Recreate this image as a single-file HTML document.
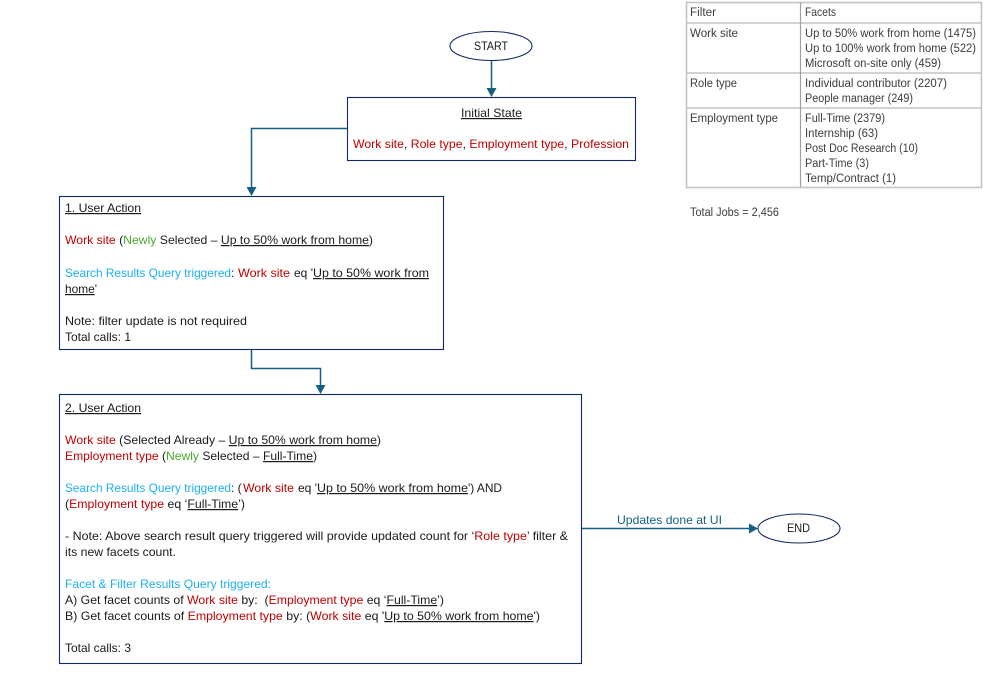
<!DOCTYPE html>
<html>
<head>
<meta charset="utf-8">
<style>
html,body{margin:0;padding:0;background:#fff;width:983px;height:682px;overflow:hidden}
svg{display:block}
text{font-family:"Liberation Sans",sans-serif;font-size:12px;fill:#1a1a1a;white-space:pre}
.r{fill:#c00000}.g{fill:#4ea72e}.b{fill:#1cb0f0}
.u{text-decoration:underline}
.t text{fill:#3c3c3c;font-size:11.5px}
.box{fill:#fff;stroke:#0f2a66;stroke-width:1.1}
.c{fill:none;stroke:#156082;stroke-width:1.5}
.a{fill:#156082}
</style>
</head>
<body>
<svg width="983" height="682" viewBox="0 0 983 682" xmlns="http://www.w3.org/2000/svg" xml:space="preserve">
<defs><filter id="soft" filterUnits="userSpaceOnUse" x="670" y="0" width="313" height="240"><feGaussianBlur stdDeviation="0.3"/></filter></defs>
<rect width="983" height="682" fill="#fff"/>

<!-- connectors -->
<path class="c" d="M491.5 61V90"/>
<path class="a" d="M486.5 88H496.5L491.5 97Z"/>
<path class="c" d="M347 128.5H251.5V188"/>
<path class="a" d="M246.5 187H256.5L251.5 196Z"/>
<path class="c" d="M251.5 349V368.5H320.5V386"/>
<path class="a" d="M315.5 385H325.5L320.5 394Z"/>
<path class="c" d="M581 528.5H750"/>
<path class="a" d="M749 523.5V533.5L758 528.5Z"/>

<!-- start -->
<ellipse class="box" cx="491" cy="46" rx="41" ry="14.5"/>
<text x="474" y="50" textLength="34" lengthAdjust="spacingAndGlyphs">START</text>

<!-- initial state -->
<rect class="box" x="347.5" y="97.5" width="288" height="63"/>
<text x="461" y="117" textLength="61" lengthAdjust="spacingAndGlyphs"><tspan class="u">Initial State</tspan></text>
<text x="353" y="148" textLength="276" lengthAdjust="spacingAndGlyphs"><tspan class="r">Work site</tspan>, <tspan class="r">Role type</tspan>, <tspan class="r">Employment type</tspan>, <tspan class="r">Profession</tspan></text>

<!-- box 1 -->
<rect class="box" x="59.5" y="196.5" width="384" height="153"/>
<text x="65" y="212" textLength="76" lengthAdjust="spacingAndGlyphs"><tspan class="u">1. User Action</tspan></text>
<text x="65" y="244" textLength="308" lengthAdjust="spacingAndGlyphs"><tspan class="r">Work site</tspan> (<tspan class="g">Newly</tspan> Selected – <tspan class="u">Up to 50% work from home</tspan>)</text>
<text x="65" y="277" textLength="166" lengthAdjust="spacingAndGlyphs" class="b">Search Results Query triggered</text>
<text x="231" y="277">:</text>
<text x="238" y="277" textLength="52" lengthAdjust="spacingAndGlyphs" class="r">Work site</text>
<text x="294" y="277" textLength="19" lengthAdjust="spacingAndGlyphs">eq '</text>
<text x="313" y="277" textLength="116" lengthAdjust="spacingAndGlyphs"><tspan class="u">Up to 50% work from</tspan></text>
<text x="65" y="293" textLength="32" lengthAdjust="spacingAndGlyphs"><tspan class="u">home</tspan>'</text>
<text x="65" y="325" textLength="182" lengthAdjust="spacingAndGlyphs">Note: filter update is not required</text>
<text x="65" y="341" textLength="66" lengthAdjust="spacingAndGlyphs">Total calls: 1</text>

<!-- box 2 -->
<rect class="box" x="59.5" y="394.5" width="522" height="269"/>
<text x="65" y="412" textLength="76" lengthAdjust="spacingAndGlyphs"><tspan class="u">2. User Action</tspan></text>
<text x="65" y="444" textLength="316" lengthAdjust="spacingAndGlyphs"><tspan class="r">Work site</tspan> (Selected Already – <tspan class="u">Up to 50% work from home</tspan>)</text>
<text x="65" y="460" textLength="252" lengthAdjust="spacingAndGlyphs"><tspan class="r">Employment type</tspan> (<tspan class="g">Newly</tspan> Selected – <tspan class="u">Full-Time</tspan>)</text>
<text x="65" y="492" textLength="166" lengthAdjust="spacingAndGlyphs" class="b">Search Results Query triggered</text>
<text x="231" y="492">: (</text>
<text x="243" y="492" textLength="51" lengthAdjust="spacingAndGlyphs" class="r">Work site</text>
<text x="298" y="492" textLength="19" lengthAdjust="spacingAndGlyphs">eq '</text>
<text x="317" y="492" textLength="151" lengthAdjust="spacingAndGlyphs"><tspan class="u">Up to 50% work from home</tspan></text>
<text x="468" y="492" textLength="34" lengthAdjust="spacingAndGlyphs">') AND</text>
<text x="65" y="508" textLength="180" lengthAdjust="spacingAndGlyphs">(<tspan class="r">Employment type</tspan> eq ‘<tspan class="u">Full-Time</tspan>’)</text>
<text x="65" y="540" textLength="503" lengthAdjust="spacingAndGlyphs">- Note: Above search result query triggered will provide updated count for ‘<tspan class="r">Role type</tspan>’ filter &amp;</text>
<text x="65" y="556" textLength="111" lengthAdjust="spacingAndGlyphs">its new facets count.</text>
<text x="65" y="588" textLength="206" lengthAdjust="spacingAndGlyphs"><tspan class="b">Facet &amp; Filter Results Query triggered:</tspan></text>
<text x="65" y="604" textLength="379" lengthAdjust="spacingAndGlyphs">A) Get facet counts of <tspan class="r">Work site</tspan> by:  (<tspan class="r">Employment type</tspan> eq ‘<tspan class="u">Full-Time</tspan>’)</text>
<text x="65" y="620" textLength="475" lengthAdjust="spacingAndGlyphs">B) Get facet counts of <tspan class="r">Employment type</tspan> by: (<tspan class="r">Work site</tspan> eq '<tspan class="u">Up to 50% work from home</tspan>')</text>
<text x="65" y="652" textLength="66" lengthAdjust="spacingAndGlyphs">Total calls: 3</text>

<!-- end -->
<text x="617" y="524" textLength="105" lengthAdjust="spacingAndGlyphs" style="fill:#156082">Updates done at UI</text>
<ellipse class="box" cx="799" cy="528.5" rx="41" ry="14.5"/>
<text x="787" y="532" textLength="23" lengthAdjust="spacingAndGlyphs">END</text>

<!-- table -->
<g filter="url(#soft)">
<g fill="none" stroke="#c4c4c4" stroke-width="1.6">
<rect x="686.5" y="2.5" width="295" height="185"/>
<path d="M686.5 23H981.5M686.5 73H981.5M686.5 108H981.5"/>
<path d="M800.5 2.5V187.5" stroke="#a0a0a0" stroke-width="1.2"/>
</g>
<g class="t">
<text x="690" y="16" textLength="26" lengthAdjust="spacingAndGlyphs">Filter</text>
<text x="805" y="16" textLength="31" lengthAdjust="spacingAndGlyphs" style="font-size:12px">Facets</text>
<text x="690" y="37" textLength="48" lengthAdjust="spacingAndGlyphs">Work site</text>
<text x="805" y="37" textLength="171" lengthAdjust="spacingAndGlyphs">Up to 50% work from home (1475)</text>
<text x="805" y="52" textLength="171" lengthAdjust="spacingAndGlyphs">Up to 100% work from home (522)</text>
<text x="805" y="67" textLength="136" lengthAdjust="spacingAndGlyphs">Microsoft on-site only (459)</text>
<text x="690" y="87" textLength="47" lengthAdjust="spacingAndGlyphs">Role type</text>
<text x="805" y="87" textLength="142" lengthAdjust="spacingAndGlyphs">Individual contributor (2207)</text>
<text x="805" y="102" textLength="108" lengthAdjust="spacingAndGlyphs">People manager (249)</text>
<text x="690" y="122" textLength="88" lengthAdjust="spacingAndGlyphs">Employment type</text>
<text x="805" y="122" textLength="80" lengthAdjust="spacingAndGlyphs">Full-Time (2379)</text>
<text x="805" y="137" textLength="73" lengthAdjust="spacingAndGlyphs">Internship (63)</text>
<text x="805" y="152" textLength="113" lengthAdjust="spacingAndGlyphs">Post Doc Research (10)</text>
<text x="805" y="167" textLength="64" lengthAdjust="spacingAndGlyphs">Part-Time (3)</text>
<text x="805" y="182" textLength="91" lengthAdjust="spacingAndGlyphs">Temp/Contract (1)</text>
<text x="690" y="216" textLength="89" lengthAdjust="spacingAndGlyphs">Total Jobs = 2,456</text>
</g>
</g>
</svg>
</body>
</html>
